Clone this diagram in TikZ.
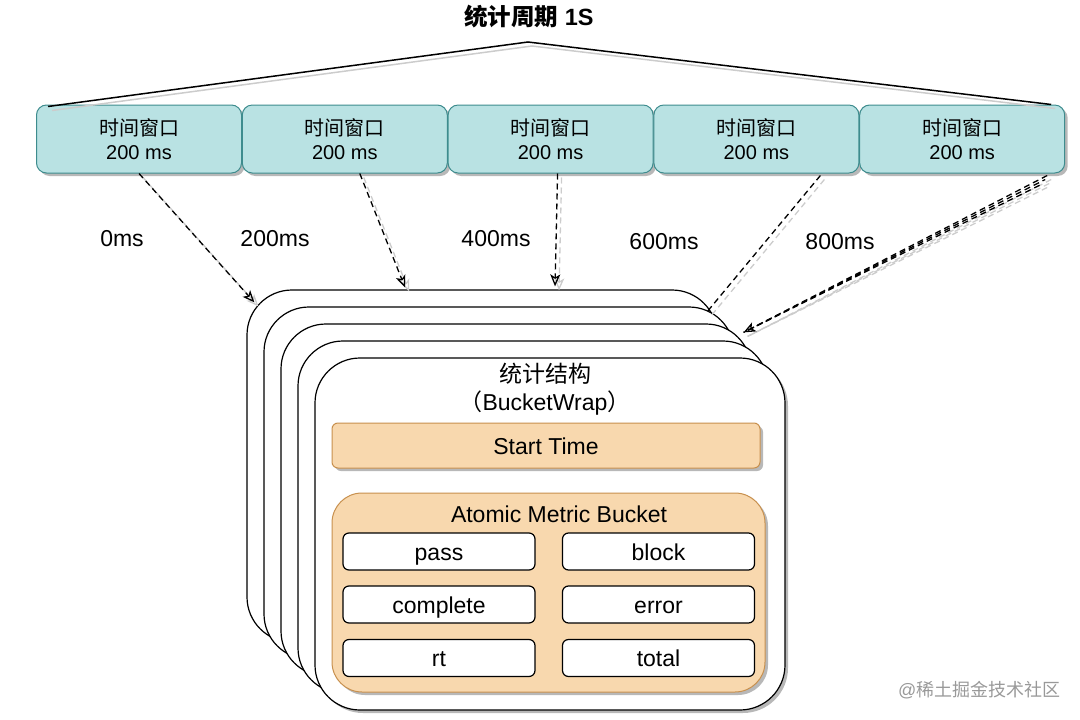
\documentclass[tikz,border=0pt]{standalone}
\usepackage{fontspec}
\setmainfont{Liberation Sans}
\newfontfamily\cjk{Noto Sans CJK SC}
\usetikzlibrary{arrows.meta,shadows,calc}
\definecolor{winfill}{HTML}{B9E2E3}
\definecolor{winline}{HTML}{3E8C8E}
\definecolor{metfill}{HTML}{F8D8AE}
\definecolor{metline}{HTML}{C8904E}
\tikzset{
  shade box/.style={drop shadow={shadow xshift=3pt, shadow yshift=-3pt, fill=black!28, opacity=1}},
  win/.style={draw=winline, fill=winfill, line width=1pt, rounded corners=10pt,
    minimum width=205pt, minimum height=68pt, align=center,
    font=\fontsize{20}{24.5}\selectfont, shade box},
  layer/.style={draw, fill=white, line width=1.2pt, rounded corners=45pt,
    minimum width=470pt, minimum height=352pt, shade box},
  metric/.style={draw=metline, fill=metfill, line width=1pt, shade box},
  txt/.style={font=\fontsize{23}{28}\selectfont, text height=18pt, text depth=1pt},
  field/.style={draw, fill=white, line width=1.2pt, rounded corners=6pt, inner sep=0pt,
    minimum width=192pt, minimum height=37pt, txt},
  span/.style={line width=1.5pt},
  ghost/.style={draw=black!20, transform canvas={xshift=4pt, yshift=-4pt}},
  link/.style={dash pattern=on 6pt off 4pt, line width=1.3pt,
    -{Stealth[open, length=12pt, width=10pt, inset=3pt]}}
}

\begin{document}
\begin{tikzpicture}[x=1pt, y=-1pt]
  %%%%% START %%%%%
  \useasboundingbox (0,0) rectangle (1080,720);

  \node[txt, font=\fontsize{23.5}{28}\selectfont\bfseries] (title) at (529,17) {{\cjk\bfseries 统计周期} 1S};

  % time windows
  \foreach \i in {1,...,5}
    \node[win] (w\i) at ({139+205.8*(\i-1)},139) {{\cjk 时间窗口}\\200 ms};

  \coordinate (apex) at (528,42);
  \draw[span, ghost] ($(w1.north west)+(12,2)$) -- (apex) -- ($(w5.north east)+(-14,0)$);
  \draw[span] ($(w1.north west)+(12,2)$) -- (apex) -- ($(w5.north east)+(-14,0)$);

  % stacked buckets
  \foreach \i in {1,...,5}
    \node[layer] (b\i) at ({482+17*(\i-1)},{466+17*(\i-1)}) {};

  \node[txt, align=center, text height=, text depth=] (head) at (545,389) {{\cjk 统计结构}\\{\cjk （}BucketWrap{\cjk ）}};

  \node[metric, rounded corners=6pt, minimum width=428pt, minimum height=45pt, inner sep=0pt, txt] (start) at (546,445.5) {Start Time};
  \node[metric, rounded corners=30pt, minimum width=433pt, minimum height=199pt] (bucket) at (548.5,592.5) {};
  \node[txt] (bucketname) at (559,514) {Atomic Metric Bucket};

  \node[field] (pass) at (439,551.5) {pass};
  \node[field] (block) at (658.5,551.5) {block};
  \node[field] (complete) at (439,604.5) {complete};
  \node[field] (error) at (658.5,604.5) {error};
  \node[field] (rt) at (439,658) {rt};
  \node[field] (total) at (658.5,658) {total};

  % offsets
  \coordinate (hit0) at ($(b1.north west)+(8,13)$);
  \coordinate (hit1) at ($(b1.north)+(-77,-2)$);
  \coordinate (hit2) at ($(b1.north)+(73,-3)$);
  \coordinate (hit3) at ($(b1.north east)+(-11,23)$);
  \coordinate (hit4) at ($(b2.north east)+(9,26)$);
  \draw[link, ghost] (w1.south) -- (hit0);
  \draw[link, ghost] ($(w2.south)+(15,0)$) -- (hit1);
  \draw[link, ghost] ($(w3.south)+(7,0)$) -- (hit2);
  \draw[link, ghost, -] ($(w4.south)+(64,2)$) -- (hit3);
  \foreach \d in {0,4,8}
    \draw[link, ghost, -] ($(w5.south east)+(-18-\d/2,2+\d)$) -- (hit4);
  \draw[link] (w1.south) -- (hit0);
  \draw[link] ($(w2.south)+(15,0)$) -- (hit1);
  \draw[link] ($(w3.south)+(7,0)$) -- (hit2);
  \draw[link, -] ($(w4.south)+(64,2)$) -- (hit3);
  \draw[link] ($(w5.south east)+(-18,2)$) -- (hit4);
  \draw[link, -, dash phase=3pt] ($(w5.south east)+(-20,6)$) -- (hit4);
  \draw[link, -, dash phase=6pt] ($(w5.south east)+(-22,10)$) -- (hit4);

  \node[txt] (t0) at (122,238) {0ms};
  \node[txt] (t1) at (275,238) {200ms};
  \node[txt] (t2) at (496,238) {400ms};
  \node[txt] (t3) at (664,241) {600ms};
  \node[txt] (t4) at (840,241) {800ms};

  \node[anchor=east, text=black!40, font=\fontsize{18}{22}\selectfont] (mark) at (1064,690) {@{\cjk 稀土掘金技术社区}};
  %%%%% END %%%%%
\end{tikzpicture}
\end{document}
